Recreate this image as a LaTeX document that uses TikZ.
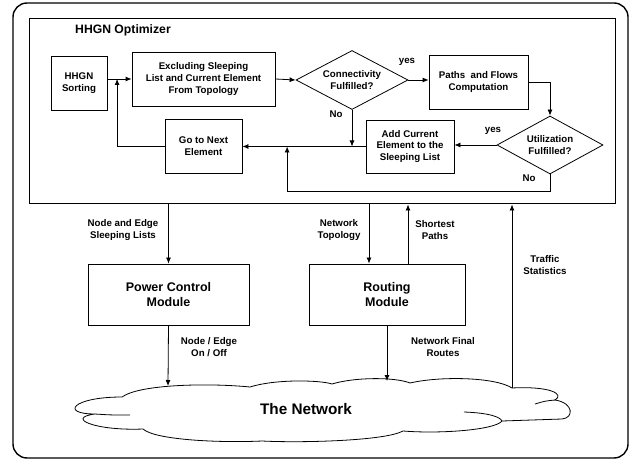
\documentclass[tikz,border=0pt]{standalone}
\usepackage{fontspec}
\setmainfont{Liberation Sans}
\usetikzlibrary{shapes.geometric,arrows.meta,calc}
\begin{document}
\begin{tikzpicture}[x=1pt,y=-1pt,
  txt/.style={font=\fontsize{9.7}{11.7}\selectfont\bfseries, align=center},
  box/.style={txt, draw, line width=0.8pt, inner sep=0pt},
  dia/.style={txt, draw, diamond, aspect=1.9, inner sep=0pt, line width=0.8pt},
  module/.style={draw, line width=0.8pt, align=center, inner sep=0pt,
     font=\fontsize{12.5}{15}\selectfont\bfseries, minimum width=#1, minimum height=61pt},
  arr/.style={-{Latex[length=6pt,width=5pt]}, line width=0.8pt},
  ln/.style={line width=0.8pt}]
\useasboundingbox (0,0) rectangle (642,462);
% outer frame
\draw[line width=1.4pt, rounded corners=14pt] (13,3) rectangle (628,458);
% optimizer frame
\node[draw, line width=1pt, minimum width=586pt, minimum height=185pt, inner sep=0pt] (opt) at (322,111.5) {};
\node[anchor=west, font=\fontsize{12.2}{14}\selectfont\bfseries, inner sep=0pt] (title) at (75,30) {HHGN Optimizer};

\node[box, minimum width=56pt, minimum height=54pt] (sort) at (79,83) {HHGN\\Sorting};
\node[box, minimum width=143pt, minimum height=54pt] (excl) at (203.5,79) {Excluding Sleeping\\List and Current Element\\From Topology};
\node[dia, minimum width=112pt, minimum height=59pt] (conn) at (352,80) {Connectivity\\Fulfilled?};
\node[box, minimum width=99pt, minimum height=54pt] (paths) at (478.5,82) {Paths\ \ and Flows\\Computation};
\node[dia, minimum width=106pt, minimum height=58pt] (util) at (550,145) {Utilization\\Fulfilled?};
\node[box, minimum width=88pt, minimum height=53pt] (add) at (410,146.5) {Add Current\\Element to the\\Sleeping List};
\node[box, minimum width=77pt, minimum height=54pt] (next) at (203.5,146.5) {Go to Next\\Element};

\coordinate (jn) at ($(sort.east |- excl.west)!0.4!(excl.west)$);
\coordinate (jb) at ($(next.east)!0.363!(add.west)$);

\draw[arr] (sort.east |- excl.west) -- (excl.west);
\draw[arr] (excl.east) -- (conn.west);
\draw[arr] (conn.east) -- (conn.east -| paths.west);
\draw[arr] (paths.east) -| (util.north);
\draw[arr] (util.west) -- (util.west -| add.east);
\draw[arr] (add.west) -- (next.east);
\draw[arr] (conn.south) -- (conn.south |- add.west);
\draw[arr] (next.west) -| (jn);
\draw[arr] (util.south) -- ++(0,17) -| (jb);

\node[txt] (yes1) at (407,62) {yes};
\node[txt] (no1) at (336,114) {No};
\node[txt] (yes2) at (493,131) {yes};
\node[txt] (no2) at (529,178) {No};

% modules
\node[module=161pt] (power) at (168.5,294.5) {Power Control\\Module};
\node[module=156pt] (routing) at (387,294.5) {Routing\\Module};

% cloud
\draw[ln, fill=white] (122,397)
 .. controls (140,384) and (210,383) .. (250,387)
 .. controls (275,379) and (320,380) .. (332,384)
 .. controls (355,377) and (395,377) .. (410,383)
 .. controls (440,376) and (495,377) .. (512,388)
 .. controls (550,386) and (565,394) .. (555,400)
 .. controls (574,403) and (574,418) .. (562,419)
 -- (502,421)
 .. controls (495,430) and (440,434) .. (403,431)
 .. controls (385,441) and (300,443) .. (262,441)
 .. controls (220,443) and (155,440) .. (143,429)
 .. controls (95,431) and (65,418) .. (95,414)
 .. controls (60,414) and (72,397) .. (122,397) -- cycle;
\draw[ln] (95,414) .. controls (110,415) .. (130,415);
\draw[ln] (555,400) .. controls (545,401) .. (535,404);
\draw[ln] (464,412) .. controls (490,413) and (500,417) .. (502,421);
\node[font=\fontsize{15.3}{18}\selectfont\bfseries, inner sep=0pt] (net) at (306,409) {The Network};

\coordinate (pc) at (168,386);
\coordinate (rc) at (387,381);
\coordinate (tc) at (512,388);

\draw[arr] (opt.south -| power.north) -- (power.north);
\draw[arr] (power.south) -- (pc);
\draw[arr] ([xshift=-18pt]routing.north |- opt.south) -- ([xshift=-18pt]routing.north);
\draw[arr] ([xshift=21pt]routing.north) -- ([xshift=21pt]routing.north |- opt.south);
\draw[arr] (routing.south) -- (rc);
\draw[arr] (tc) -- (tc |- opt.south);

\node[txt] (l1) at (123,230) {Node and Edge\\Sleeping Lists};
\node[txt] (l2) at (209,347) {Node / Edge\\On / Off};
\node[txt] (l3) at (339,230) {Network\\Topology};
\node[txt] (l4) at (435,230) {Shortest\\Paths};
\node[txt] (l5) at (443,347) {Network Final\\Routes};
\node[txt] (l6) at (545,265) {Traffic\\Statistics};
\end{tikzpicture}
\end{document}
